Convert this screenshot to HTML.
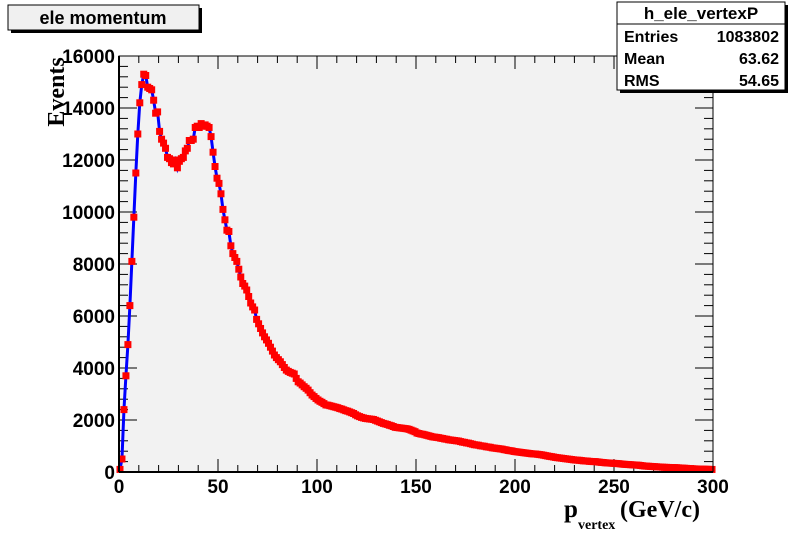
<!DOCTYPE html>
<html><head><meta charset="utf-8"><style>
html,body{margin:0;padding:0;background:#fff;}
svg{display:block;font-family:"Liberation Sans",sans-serif;}
</style></head><body>
<svg id="chart" width="792" height="544" viewBox="0 0 792 544" xmlns="http://www.w3.org/2000/svg">
<rect x="0" y="0" width="792" height="544" fill="#fff"/>
<rect x="119" y="56" width="594" height="416" fill="#f2f2f2" stroke="#000" stroke-width="1"/>
<g id="ticks"></g>
<g id="series"></g>
<line x1="119" y1="472" x2="713" y2="472" stroke="#000" stroke-width="2"/>
<line x1="119" y1="56" x2="119" y2="472" stroke="#000" stroke-width="2"/>
<line x1="119" y1="56" x2="713" y2="56" stroke="#000" stroke-width="1"/>
<line x1="713" y1="56" x2="713" y2="472" stroke="#000" stroke-width="1"/>
<g id="labels" font-weight="bold" font-size="19"></g>
<text transform="translate(64,92) rotate(-90)" text-anchor="middle" font-family="Liberation Serif,serif" font-weight="bold" font-size="24">Events</text>
<g font-family="Liberation Serif,serif" font-weight="bold">
<text x="564" y="517" font-size="25">p</text>
<text x="578" y="529" font-size="14">vertex</text>
<text x="620" y="517" font-size="24">(GeV/c)</text>
</g>
<g>
<rect x="11" y="8" width="191" height="25" fill="#000"/>
<rect x="8" y="5" width="191" height="25" fill="#f0f0f0" stroke="#000" stroke-width="1"/>
<text x="103" y="24" text-anchor="middle" font-size="18" font-weight="bold">ele momentum</text>
</g>
<g font-weight="bold" font-size="16">
<rect x="620" y="5" width="168" height="88" fill="#000"/>
<rect x="617" y="2" width="168" height="88" fill="#fff" stroke="#000" stroke-width="1"/>
<line x1="617" y1="24" x2="785" y2="24" stroke="#000"/>
<text x="701" y="19" text-anchor="middle" font-size="17">h_ele_vertexP</text>
<text x="624" y="42">Entries</text><text x="779" y="42" text-anchor="end">1083802</text>
<text x="624" y="64">Mean</text><text x="779" y="64" text-anchor="end">63.62</text>
<text x="624" y="86">RMS</text><text x="779" y="86" text-anchor="end">54.65</text>
</g>
</svg>
<script>
const counts = [
100,500,2400,3700,4900,6400,8100,9800,11500,13000,
14200,14900,15300,15250,14800,14750,14700,14300,13800,13850,
13100,12800,12650,12450,12100,12050,11900,11850,12000,11700,
11950,12050,12100,12350,12450,12750,12750,12800,13250,13300,
13250,13400,13300,13350,13300,13250,12900,12300,11750,11300,
11100,10700,10100,9700,9300,9250,8700,8400,8250,8100,
7800,7500,7250,7150,7000,6750,6500,6350,6230,5870,
5700,5520,5350,5200,5080,4950,4800,4650,4500,4400,
4320,4240,4130,4020,3920,3870,3830,3800,3770,3600,
3470,3420,3350,3280,3220,3150,3050,2960,2900,2830,
2770,2720,2680,2630,2580,2570,2550,2530,2510,2490,
2470,2440,2420,2390,2360,2340,2310,2280,2250,2200,
2160,2130,2100,2080,2060,2050,2040,2030,2020,1990,
1960,1930,1900,1870,1850,1830,1800,1780,1750,1720,
1710,1700,1690,1680,1670,1660,1640,1610,1580,1550,
1500,1480,1460,1450,1430,1410,1390,1370,1350,1340,
1330,1320,1300,1290,1270,1260,1240,1230,1220,1210,
1200,1190,1170,1150,1140,1120,1110,1090,1070,1050,
1040,1030,1010,1000,990,970,960,950,930,920,
910,900,890,880,860,850,830,820,810,790,
780,770,760,750,740,730,720,710,700,695,
690,680,670,660,645,630,615,600,590,575,
560,550,540,530,520,510,500,490,480,470,
460,455,450,440,430,425,420,410,405,400,
400,390,380,370,365,355,350,345,340,335,
330,325,320,310,300,295,290,285,280,275,
270,265,260,250,240,230,225,220,215,210,
205,200,195,190,185,180,178,175,172,170,
168,165,160,155,150,145,140,135,130,125,
120,118,115,112,110,108,105,102,100,98];
const xTicks = [0,50,100,150,200,250,300];
const yTicks = [0,2000,4000,6000,8000,10000,12000,14000,16000];
const binWidth = 1;

const NS = "http://www.w3.org/2000/svg";
const X0=119, X1=713, Y0=472, Y1=56;
const xMin=0, xMax=300, yMin=0, yMax=16000;
const sx = v => X0 + (v-xMin)/(xMax-xMin)*(X1-X0);
const sy = v => Y0 - (v-yMin)/(yMax-yMin)*(Y0-Y1);
function mk(tag, attrs){const e=document.createElementNS(NS,tag);for(const k in attrs)e.setAttribute(k,attrs[k]);return e;}

const tg=document.getElementById('ticks');
const lg=document.getElementById('labels');
// x ticks
for(let v=xMin; v<=xMax; v+=10){
  const major = v%50===0;
  const L = major?13:7;
  const x=sx(v);
  const t1=mk('line',{x1:x,y1:Y0,x2:x,y2:Y0-L,stroke:'#000','stroke-width':1});
  
  
  tg.appendChild(t1);
  const t2=mk('line',{x1:x,y1:Y1,x2:x,y2:Y1+L,stroke:'#000','stroke-width':1});
  
  
  tg.appendChild(t2);
}
xTicks.forEach(v=>{
  const t=mk('text',{x:sx(v),y:Y0+21,'text-anchor':'middle'});
  t.textContent=v;
  
  
  lg.appendChild(t);
});
// y ticks
for(let v=yMin; v<=yMax; v+=400){
  const major = v%2000===0;
  const L = major?18:9;
  const y=sy(v);
  const t1=mk('line',{x1:X0,y1:y,x2:X0+L,y2:y,stroke:'#000','stroke-width':1});
  
  
  tg.appendChild(t1);
  const t2=mk('line',{x1:X1,y1:y,x2:X1-L,y2:y,stroke:'#000','stroke-width':1});
  
  
  tg.appendChild(t2);
}
yTicks.forEach(v=>{
  const t=mk('text',{x:X0-4,y:sy(v)+7,'text-anchor':'end'});
  t.textContent=v;
  
  
  lg.appendChild(t);
});
// series
const sg=document.getElementById('series');
let pts=[];
counts.forEach((c,i)=>{pts.push(sx((i+0.5)*binWidth).toFixed(2)+','+sy(c).toFixed(2));});
const line=mk('polyline',{points:pts.join(' '),fill:'none',stroke:'#0000ff','stroke-width':3});


sg.appendChild(line);
const M=7;
counts.forEach((c,i)=>{
  const r=mk('rect',{x:sx((i+0.5)*binWidth)-M/2,y:sy(c)-M/2,width:M,height:M,fill:'#ff0000'});
  
  
  sg.appendChild(r);
});
</script>
</body></html>
